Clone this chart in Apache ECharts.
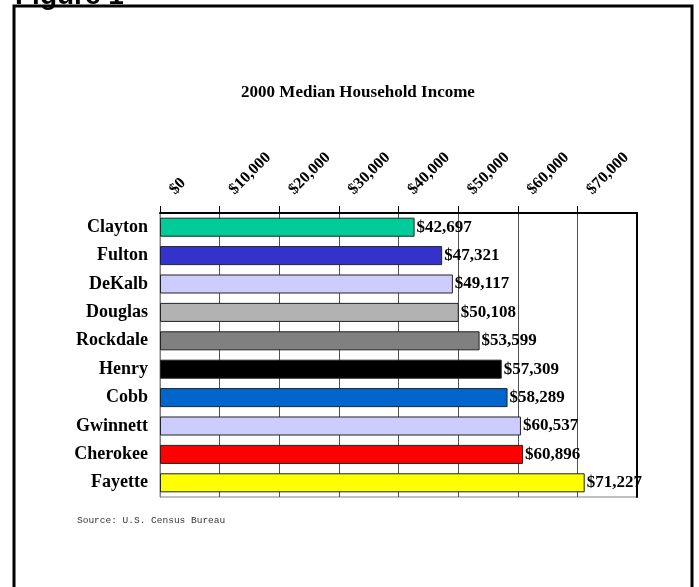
<!DOCTYPE html>
<html>
<head>
<meta charset="utf-8">
<script src="https://cdn.jsdelivr.net/npm/echarts@6/dist/echarts.min.js"></script>
<style>
  html, body { margin: 0; padding: 0; background: #fff; }
  #chart { width: 699px; height: 587px; }
</style>
</head>
<body>
<div id="chart"></div>
<script>
const counties = ['Clayton', 'Fulton', 'DeKalb', 'Douglas', 'Rockdale', 'Henry', 'Cobb', 'Gwinnett', 'Cherokee', 'Fayette']
const incomes = [42697, 47321, 49117, 50108, 53599, 57309, 58289, 60537, 60896, 71227]
const barColors = ['#00cc99', '#3333cc', '#ccccff', '#b2b2b2', '#808080', '#000000', '#0066cc', '#ccccff', '#ff0000', '#ffff00']
const tickValues = [0, 10000, 20000, 30000, 40000, 50000, 60000, 70000]

const serif = '"Liberation Serif", "Times New Roman", serif'

function money (v) {
  return '$' + v.toLocaleString('en-US')
}

const myChart = echarts.init(document.getElementById('chart'), null, { renderer: 'canvas' })

const option = {
  backgroundColor: '#fff',
  animation: false,
  title: {
    text: '2000 Median Household Income',
    left: 353,
    top: 79,
    textAlign: 'center',
    textStyle: { fontFamily: serif, fontWeight: 'bold', fontSize: 17, color: '#000' }
  },
  graphic: [
    {
      type: 'rect',
      shape: { x: 14, y: 6, width: 678, height: 600 },
      style: { fill: 'none', stroke: '#000', lineWidth: 3 }
    },
    {
      type: 'text',
      x: 15,
      y: 10,
      style: {
        text: 'Figure 1',
        font: 'bold 28px "Liberation Sans", Arial, sans-serif',
        fill: '#000',
        verticalAlign: 'bottom'
      }
    },
    {
      type: 'text',
      x: 77,
      y: 520,
      style: {
        text: 'Source: U.S. Census Bureau',
        font: '9.5px "Liberation Mono", "Courier New", monospace',
        fill: '#333',
        verticalAlign: 'middle'
      }
    }
  ],
  grid: {
    left: 160,
    right: 62,
    top: 213,
    bottom: 90,
    show: true,
    borderColor: '#808080',
    borderWidth: 1
  },
  xAxis: {
    type: 'value',
    position: 'top',
    min: 0,
    max: 80000,
    interval: 10000,
    axisLine: { show: true, lineStyle: { color: '#000', width: 2 } },
    axisTick: { show: true, length: 7, lineStyle: { color: '#000' } },
    splitLine: { show: true, lineStyle: { color: '#505050', width: 1 } },
    axisLabel: {
      rotate: -45,
      margin: 9,
      padding: [0, 0, 0, 17],
      fontFamily: serif,
      fontWeight: 'bold',
      fontSize: 16,
      color: '#000',
      showMaxLabel: false,
      formatter: v => tickValues.includes(v) ? money(v) : ''
    }
  },
  yAxis: [
    {
      type: 'category',
      data: counties,
      inverse: true,
      axisLine: { show: true, lineStyle: { color: '#808080', width: 1 } },
      axisTick: { show: false },
      axisLabel: {
        margin: 12,
        fontFamily: serif,
        fontWeight: 'bold',
        fontSize: 18,
        color: '#000'
      }
    },
    {
      type: 'category',
      data: counties,
      inverse: true,
      position: 'right',
      axisLine: { show: true, lineStyle: { color: '#000', width: 2 } },
      axisTick: { show: false },
      axisLabel: { show: false }
    }
  ],
  series: [
    {
      type: 'bar',
      data: incomes.map((v, i) => ({ value: v, itemStyle: { color: barColors[i] } })),
      barCategoryGap: '33%',
      itemStyle: { borderColor: '#222', borderWidth: 1 },
      label: {
        show: true,
        position: 'right',
        distance: 2,
        fontFamily: serif,
        fontWeight: 'bold',
        fontSize: 17,
        color: '#000',
        formatter: p => money(p.value)
      }
    }
  ]
}

myChart.setOption(option)
window.addEventListener('resize', myChart.resize)
</script>
</body>
</html>
